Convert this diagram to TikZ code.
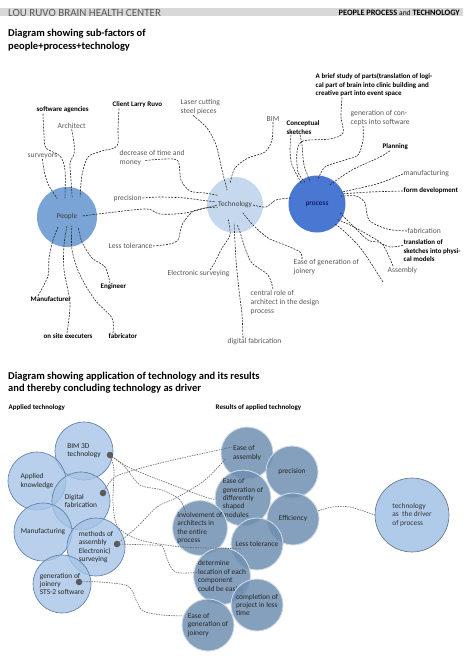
\documentclass[tikz,border=0pt]{standalone}
\usepackage{fontspec}
\setmainfont{Carlito}
\usetikzlibrary{calc}

\definecolor{hdrgray}{RGB}{216,216,216}
\definecolor{pplblue}{RGB}{122,163,214}
\definecolor{techblue}{RGB}{197,216,238}
\definecolor{procblue}{RGB}{74,119,210}
\definecolor{applblue}{RGB}{166,196,230}
\definecolor{applline}{RGB}{88,122,166}
\definecolor{resblue}{RGB}{112,143,177}
\definecolor{drvblue}{RGB}{176,202,233}

\tikzset{
  titel/.style={anchor=west, align=left, inner sep=0pt, font=\bfseries\fontsize{10.5}{13.5}\selectfont},
  lbl/.style={anchor=west, align=left, inner sep=0.5pt, text=black!65, font=\fontsize{7.6}{9}\selectfont},
  blbl/.style={lbl, text=black, font=\bfseries\fontsize{7}{8.5}\selectfont},
  faktor/.style={circle, inner sep=0pt, align=left, text=black!75, font=\fontsize{7.4}{8.4}\selectfont},
  angew/.style={faktor, minimum size=58pt, fill=applblue, fill opacity=0.8, text opacity=1, draw=applline, line width=0.6pt, text=black!85},
  ergeb/.style={faktor, minimum size=52pt, fill=resblue, fill opacity=0.85, text opacity=1, draw=white!65!resblue, line width=0.9pt, text=black!85},
  punkt/.style={circle, fill=black!65, inner sep=0pt, minimum size=6.5pt},
  strich/.style={dash pattern=on 2pt off 1.2pt, line width=0.6pt, black!85},
  gstrich/.style={dash pattern=on 1.5pt off 1pt, line width=0.6pt, black!60}
}

\begin{document}
\begin{tikzpicture}[x=1pt,y=-1pt]
\useasboundingbox (0,0) rectangle (474,669);

% Kopfzeile
\fill[hdrgray] (0,8) rectangle (463,16.5);
\node[anchor=west, inner sep=0pt, text=black!65, font=\fontsize{11}{12}\selectfont] (kopfl) at (8,12.5) {LOU RUVO BRAIN HEALTH CENTER};
\node[anchor=east, inner sep=0pt, font=\fontsize{8.3}{9}\selectfont] (kopfr) at (460,13) {\textbf{PEOPLE PROCESS} {\fontsize{7.5}{9}\selectfont and} \textbf{TECHNOLOGY}};

% Teil 1: Unterfaktoren
\node[titel] (titel1) at (8,40) {Diagram showing sub-factors of\\people+process+technology};

\node[faktor, minimum size=60pt, fill=pplblue] (People) at (67,217) {People};
\node[faktor, minimum size=56pt, fill=techblue] (Technology) at (235,205) {Technology};
\node[faktor, minimum size=57pt, fill=procblue, text=black!70!blue] (process) at (317,204) {process};

% Beschriftungen People
\node[blbl] (sa) at (36,110) {software agencies};
\node[lbl] (arch) at (57,126) {Architect};
\node[blbl] (clr) at (112,105) {Client Larry Ruvo};
\node[lbl] (surv) at (27,156) {surveyors};
\node[blbl] (manu) at (30,299) {Manufacturer};
\node[blbl] (eng) at (100,287) {Engineer};
\node[blbl] (ose) at (43,336) {on site executers};
\node[blbl] (fab) at (108,336) {fabricator};

% Beschriftungen Technology
\node[lbl] (laser) at (180,107) {Laser cutting\\steel pieces};
\node[lbl] (bim) at (266,119) {BIM};
\node[lbl] (dec) at (119,157.5) {decrease of time and\\money};
\node[lbl] (prec) at (113,198) {precision};
\node[lbl] (lt) at (108,246) {Less tolerance};
\node[lbl] (es) at (167,274) {Electronic surveying};
\node[lbl] (crole) at (250,302) {central role of\\architect in the design\\process};
\node[lbl] (dfab) at (227,342) {digital fabrication};
\node[lbl] (egj) at (293,267.5) {Ease of generation of\\joinery};

% Beschriftungen process
\node[blbl] (abs) at (315,85) {A brief study of parts(translation of logi-\\cal part of brain into clinic building and\\creative part into event space};
\node[blbl] (cs) at (286,127.5) {Conceptual\\sketches};
\node[lbl] (gen) at (350,117.5) {generation of con-\\cepts into software};
\node[blbl] (plan) at (382,147) {Planning};
\node[lbl] (manuf) at (403,174) {manufacturing};
\node[blbl] (formd) at (403,191) {form development};
\node[lbl] (fabr) at (407,231) {fabrication};
\node[blbl] (trans) at (403,251) {translation of\\sketches into physi-\\cal models};
\node[lbl] (assem) at (387,270) {Assembly};
\coordinate (assemfrei) at (383,282);

% Linien People
\draw[strich] plot[smooth] coordinates {([xshift=7pt]sa.south west) (44,135) (46,148) (60,156) (65,170) ([shift={(96:19pt)}]People.center)};
\draw[strich] plot[smooth] coordinates {(arch.south) (74,143) (74,154) (70,163) (71,180) ([shift={(75:20pt)}]People.center)};
\draw[strich] plot[smooth] coordinates {([xshift=7pt]clr.south west) (118,128) (117,146) (102,151) (88,157) (82,175) ([shift={(57:24pt)}]People.center)};
\draw[strich] plot[smooth] coordinates {(surv.south) (44,170) (48,184) ([shift={(118:21pt)}]People.center)};
\draw[strich] plot[smooth] coordinates {([xshift=8pt]manu.north west) (48,276) (49,258) (53,240) ([shift={(228:13pt)}]People.center)};
\draw[strich] plot[smooth] coordinates {([xshift=24pt]ose.north west) (70,303) (64,270) (64,245) ([shift={(270:9pt)}]People.center)};
\draw[strich] plot[smooth] coordinates {([xshift=5pt]fab.north west) (112,318) (95,300) (80,275) (72,250) ([shift={(299:10pt)}]People.center)};
\draw[strich] plot[smooth] coordinates {([xshift=10pt]eng.north west) (105,267) (92,258) (82,242) ([shift={(318:15pt)}]People.center)};
\draw[strich] plot[smooth] coordinates {([shift={(4:16pt)}]People.center) (115,212) (147,209) (160,214) (185,213) ([shift={(180:18pt)}]Technology.center)};

% Linien Technology
\draw[strich] plot[smooth] coordinates {([xshift=13pt]laser.south west) (207,128) (216,145) (222,170) ([shift={(118:17pt)}]Technology.center)};
\draw[strich] plot[smooth] coordinates {(bim.south) (272,140) (265,152) (248,158) (235,168) ([shift={(102:23pt)}]Technology.center)};
\draw[strich] plot[smooth] coordinates {([xshift=-40pt,yshift=-3pt]dec.east) (165,159) (178,161) (181,180) (190,191) (205,193) ([shift={(151:20pt)}]Technology.center)};
\draw[strich] plot[smooth] coordinates {(prec.east) (160,197) (185,198) (200,200) ([shift={(171:20pt)}]Technology.center)};
\draw[strich] plot[smooth] coordinates {(lt.east) (170,244) (178,240) (182,225) (192,212) (205,208) ([shift={(187:17pt)}]Technology.center)};
\draw[strich] plot[smooth] coordinates {([xshift=-20pt]es.north east) (215,262) (222,248) (230,235) ([shift={(245:16pt)}]Technology.center)};
\draw[strich] plot[smooth] coordinates {([xshift=23pt]crole.north west) (268,275) (252,263) (245,248) (240,232) ([shift={(276:20pt)}]Technology.center)};
\draw[strich] plot[smooth] coordinates {([xshift=16pt]dfab.north west) (242,315) (239,290) (236,260) ([shift={(267:18pt)}]Technology.center)};
\draw[strich] plot[smooth] coordinates {([xshift=9pt]egj.north west) (300,252) (285,245) (268,238) (253,225) ([shift={(315:11pt)}]Technology.center)};
\draw[strich] plot[smooth] coordinates {([shift={(0:18pt)}]Technology.center) (266,207) (276,200) ([shift={(167:27pt)}]process.center)};

% Linien process
\draw[strich] plot[smooth] coordinates {([xshift=27pt]abs.south west) (341,117) (343,133) (330,139) (303,141) (297,152) (298,172) ([shift={(119:25pt)}]process.center)};
\draw[strich] plot[smooth] coordinates {([xshift=5pt]cs.south west) (290,150) (292,165) ([shift={(127:25pt)}]process.center)};
\draw[strich] plot[smooth] coordinates {([xshift=14pt]cs.south west) (302,145) (304,165) ([shift={(107:24pt)}]process.center)};
\draw[strich] plot[smooth] coordinates {([xshift=13pt]gen.south west) (363,140) (358,155) (345,160) (325,167) ([shift={(88:24pt)}]process.center)};
\draw[strich] plot[smooth] coordinates {([xshift=8pt]plan.south west) (380,157) (352,170) ([shift={(56:23pt)}]process.center)};
\draw[strich] plot[smooth] coordinates {(manuf.west) (380,183) (360,188) ([shift={(26:27pt)}]process.center)};
\draw[strich] plot[smooth] coordinates {(formd.west) (370,192) ([shift={(22:27pt)}]process.center)};
\draw[strich] plot[smooth] coordinates {(fabr.west) (387,229) (369,220) (365,203) (356,196) ([shift={(18:25pt)}]process.center)};
\draw[strich] plot[smooth] coordinates {([yshift=-6pt]trans.north west) (390,247) (378,242) (368,240) (353,226) ([shift={(339:25pt)}]process.center)};
\draw[strich] plot[smooth] coordinates {([xshift=6pt]assem.north west) (383,245) (370,236) (352,226) ([shift={(323:26pt)}]process.center)};
\draw[strich] plot[smooth] coordinates {(assemfrei) (362,250) (345,232) ([shift={(312:27pt)}]process.center)};

% Teil 2: Anwendung der Technologie
\node[titel, font=\bfseries\fontsize{10.5}{12}\selectfont] (titel2) at (8,383) {Diagram showing application of technology and its results\\and thereby concluding technology as driver};
\node[blbl] (angtitel) at (8,408) {Applied technology};
\node[blbl] (ergtitel) at (215,408) {Results of applied technology};

% angewandte Technologie
\node[angew] (bim3d) at (84,451) {BIM 3D\\technology};
\node[angew] (ak) at (37,481) {Applied\\knowledge};
\node[angew] (dfab2) at (81,501) {Digital\\fabrication};
\node[angew] (mf) at (43,532) {Manufacturing};
\node[angew] (meth) at (96,547) {methods of\\assembly\\Electronic)\\surveying};
\node[angew] (gj) at (62,584) {generation of\\joinery\\STS-2 software};

% Ergebnisse
\node[ergeb] (ea) at (247,453) {Ease of\\assembly};
\node[ergeb] (prec2) at (292,472) {precision};
\node[ergeb] (egs) at (243,498) {Ease of\\generation of\\differently\\shaped\\modules};
\node[ergeb] (eff) at (293,519) {Efficiency};
\node[ergeb] (inv) at (200,528) {involvement of\\architects in\\the entire\\process};
\node[ergeb] (lt2) at (257,544) {Less tolerance};
\node[ergeb] (det) at (222,576) {determine\\location of each\\component\\could be easier};
\node[ergeb] (cp) at (257,605) {completion of\\project in less\\time};
\node[ergeb] (egj2) at (208,625) {Ease of\\generation of\\joinery};

\node[faktor, minimum size=74pt, fill=drvblue, draw=black!45!drvblue, line width=0.6pt, text=black!80] (drv) at (412,515) {technology\\as~ the driver\\of process};

% Punkte
\node[punkt] (bimdot) at (110,455) {};
\node[punkt] (dfdot) at (103,493) {};
\node[punkt] (methdot) at (117,544) {};
\node[punkt] (gjdot) at (79,582) {};

% Verbindungen
\draw[gstrich] plot[smooth] coordinates {(bimdot) (128,467) (152,477) (178,487) (205,497) (egs.183)};
\draw[gstrich] plot[smooth] coordinates {(bimdot) (125,467) (140,485) (162,490) (180,500) ([shift={(140:17pt)}]inv.center)};
\draw[gstrich] plot[smooth] coordinates {(bimdot) (114,470) (113,503) (118,527) (140,540) (183,547) ([shift={(196:17pt)}]lt2.center)};
\draw[gstrich] plot[smooth] coordinates {(dfdot) (115,477) (145,467) (182,458) ([shift={(158:16pt)}]ea.center)};
\draw[gstrich] plot[smooth] coordinates {(methdot) (137,527) (157,507) (178,497) (205,480) ([shift={(195:22pt)}]ea.center)};
\draw[gstrich] plot[smooth] coordinates {(methdot) (150,545) (162,546) (166,556) (172,569) (180,573) ([shift={(169:20pt)}]det.center)};
\draw[gstrich] plot[smooth] coordinates {(gjdot) (100,582) (128,586) (136,600) (143,611) (162,615) (egj2.160)};
\draw[gstrich] plot[smooth] coordinates {(eff.18) (332,507) (350,507) (drv.west)};

\end{tikzpicture}
\end{document}
